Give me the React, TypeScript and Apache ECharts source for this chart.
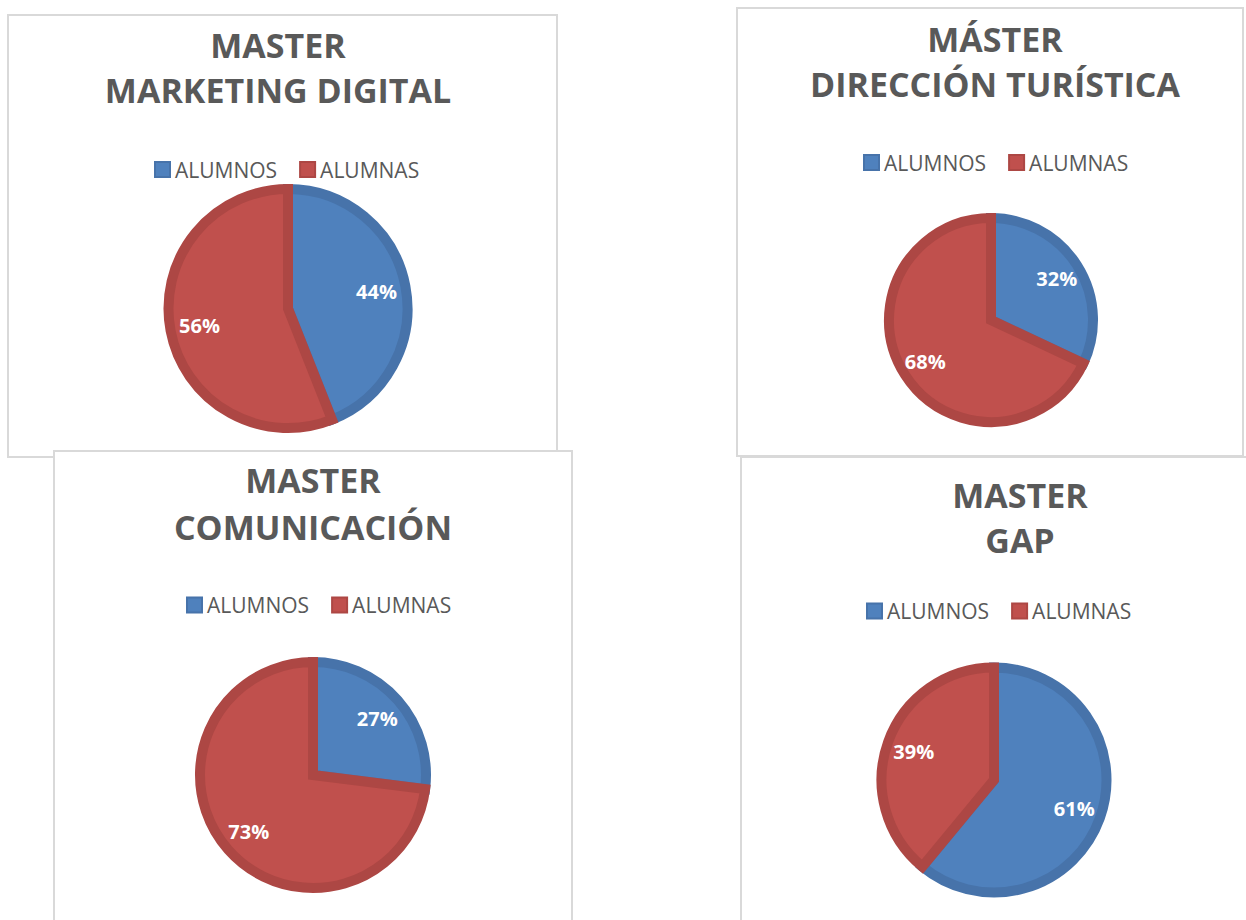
import React, { useEffect, useRef } from "react";
import * as echarts from "echarts";

// ---- Data ----
const categories = ["ALUMNOS", "ALUMNAS"];
const titleMarketing = ["MASTER", "MARKETING DIGITAL"];
const titleDireccion = ["MÁSTER", "DIRECCIÓN TURÍSTICA"];
const titleComunicacion = ["MASTER", "COMUNICACIÓN"];
const titleGap = ["MASTER", "GAP"];
const marketingDigital = [44, 56];
const direccionTuristica = [32, 68];
const comunicacion = [27, 73];
const gap = [61, 39];

const chartTitles = [titleMarketing, titleDireccion, titleComunicacion, titleGap];
const chartValues = [marketingDigital, direccionTuristica, comunicacion, gap];

// ---- Layout / style ----
const FILL = ["#4F81BD", "#C0504D"];
const EDGE = ["#4773AA", "#AD4744"];
const TEXT = "#595959";
const FONT = "'Open Sans', 'DejaVu Sans', sans-serif";
const BORDER = 10;

const layouts = [
  { rx: 8, ry: 15, rw: 549, rh: 442, tx: 278, ty1: 45, ty2: 90, lx: 154, ly: 169, cx: 288, cy: 308.5, r: 124.5 },
  { rx: 737, ry: 8, rw: 506, rh: 448, tx: 995, ty1: 39, ty2: 84, lx: 863, ly: 162, cx: 991, cy: 320, r: 107 },
  { rx: 54, ry: 451, rw: 518, rh: 480, tx: 313, ty1: 480, ty2: 527, lx: 186, ly: 604.5, cx: 313, cy: 775, r: 118 },
  { rx: 741, ry: 457, rw: 520, rh: 480, tx: 1020, ty1: 495, ty2: 540, lx: 866, ly: 610.5, cx: 994, cy: 780, r: 117.5 },
];

export default function App() {
  const ref = useRef<HTMLDivElement>(null);
  useEffect(() => {
    if (!ref.current) return;
    const chart = echarts.init(ref.current, undefined, { renderer: "svg" });

    const graphic: any[] = [];
    layouts.forEach((L, i) => {
      graphic.push({
        type: "rect",
        shape: { x: L.rx, y: L.ry, width: L.rw, height: L.rh },
        style: { fill: "#ffffff", stroke: "#D9D9D9", lineWidth: 2 },
        silent: true,
      });
      chartTitles[i].forEach((line, j) => {
        graphic.push({
          type: "text",
          x: L.tx,
          y: j === 0 ? L.ty1 : L.ty2,
          silent: true,
          style: {
            text: line,
            fill: TEXT,
            fontSize: 34,
            fontWeight: "bold",
            fontFamily: FONT,
            align: "center",
            verticalAlign: "middle",
          },
        });
      });
    });

    const legends = layouts.map((L) => ({
      data: categories,
      left: L.lx,
      top: L.ly - 10,
      padding: 0,
      orient: "horizontal",
      icon: "rect",
      itemWidth: 15,
      itemHeight: 15,
      itemGap: 22,
      selectedMode: false,
      textStyle: { color: TEXT, fontSize: 21, fontFamily: FONT, lineHeight: 20 },
    }));

    const mainSeries = layouts.map((L, i) => ({
      type: "pie",
      name: chartTitles[i].join(" "),
      center: [L.cx, L.cy],
      radius: [0, L.r - BORDER / 2],
      startAngle: 90,
      clockwise: true,
      label: { show: false },
      labelLine: { show: false },
      emphasis: { disabled: true },
      itemStyle: { borderWidth: BORDER, borderJoin: "miter" },
      data: categories.map((c, k) => ({
        name: c,
        value: chartValues[i][k],
        itemStyle: { color: FILL[k], borderColor: EDGE[k] },
      })),
    }));

    const labelSeries = layouts.map((L, i) => ({
      type: "pie",
      name: chartTitles[i].join(" ") + " labels",
      center: [L.cx, L.cy],
      radius: [L.r * 0.4, L.r],
      startAngle: 90,
      clockwise: true,
      silent: true,
      percentPrecision: 0,
      itemStyle: { color: "rgba(0,0,0,0)", borderWidth: 0 },
      label: {
        show: true,
        position: "inside",
        formatter: "{d}%",
        color: "#ffffff",
        fontSize: 20,
        fontWeight: "bold",
        fontFamily: FONT,
      },
      labelLine: { show: false },
      emphasis: { disabled: true },
      data: categories.map((c, k) => ({ name: c, value: chartValues[i][k] })),
    }));

    chart.setOption({
      animation: false,
      backgroundColor: "#ffffff",
      graphic: { elements: graphic },
      legend: legends,
      tooltip: { show: false },
      series: [...mainSeries, ...labelSeries],
    });

    return () => chart.dispose();
  }, []);

  return (
    <div
      ref={ref}
      style={{ position: "absolute", left: 0, top: 0, width: 1246, height: 920 }}
    />
  );
}
